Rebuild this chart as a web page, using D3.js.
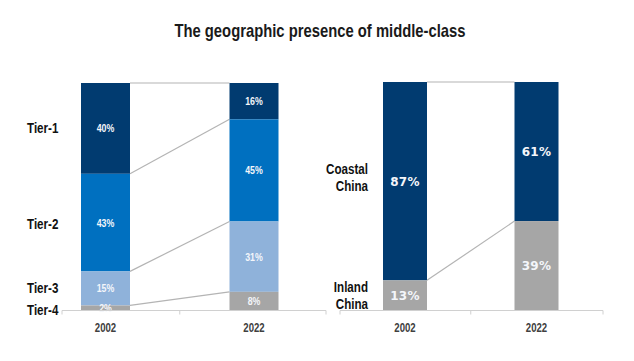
<!DOCTYPE html>
<html><head><meta charset="utf-8">
<script src="https://cdn.jsdelivr.net/npm/d3@7"></script>
<style>
html,body{margin:0;padding:0;background:#fff;}
svg{display:block;}
.cond{font-family:"Liberation Sans Narrow","Arial Narrow","Liberation Sans",Arial,sans-serif;font-weight:bold;}
</style></head>
<body><svg id="c" width="634" height="361"></svg>
<script>
// ---- data ----
const years = ["2002", "2022"];
const tiers = ["Tier-1", "Tier-2", "Tier-3", "Tier-4"];
const tier2002 = [40, 43, 15, 2];
const tier2022 = [16, 45, 31, 8];
const regions = ["Coastal China", "Inland China"];
const region2002 = [87, 13];
const region2022 = [61, 39];
const title = "The geographic presence of middle-class";

const svg = d3.select("#c");
const tierColors = ["#013b70", "#0070c0", "#8fb2da", "#a6a6a6"];
const regionColors = ["#013b70", "#a6a6a6"];
const SQ = 0.8; // horizontal condensing to mimic a narrow face

function condense(sel, f) {
  sel.each(function () {
    const w = this.getComputedTextLength();
    if (w > 0) d3.select(this).attr("textLength", w * f).attr("lengthAdjust", "spacingAndGlyphs");
  });
  return sel;
}

condense(svg.append("text").attr("class", "cond").attr("x", 320).attr("y", 37)
  .attr("text-anchor", "middle").attr("font-size", 18.5).attr("fill", "#1a1a1a").text(title), SQ);

function panel(cfg) {
  const g = svg.append("g");
  const x = d3.scalePoint().domain(years).range(cfg.xr);
  const y = d3.scaleLinear().domain([0, 100]).range([cfg.y0, cfg.y1]);
  const series = [cfg.v1, cfg.v2];
  const stacked = series.map(vals => {
    let top = 100;
    return vals.map((v, i) => { const s = {i, v, hi: top, lo: top - v}; top -= v; return s; });
  });
  // connector lines
  const bounds = stacked.map(st => [100].concat(st.slice(0, st.length - 1).map(s => s.lo)));
  bounds[0].forEach((b, k) => {
    g.append("line")
      .attr("x1", x(years[0]) + cfg.bw / 2).attr("y1", y(b))
      .attr("x2", x(years[1]) - cfg.bw / 2).attr("y2", y(bounds[1][k]))
      .attr("stroke", "#b4b4b4").attr("stroke-width", 1.2);
  });
  stacked.forEach((st, j) => {
    st.forEach(s => {
      g.append("rect").attr("x", x(years[j]) - cfg.bw / 2).attr("y", y(s.hi))
        .attr("width", cfg.bw).attr("height", y(s.lo) - y(s.hi)).attr("fill", cfg.colors[s.i]);
      const t = g.append("text").attr("x", x(years[j])).attr("y", (y(s.hi) + y(s.lo)) / 2)
        .attr("dy", "0.36em").attr("text-anchor", "middle")
        .attr("class", cfg.valClass).attr("font-size", cfg.valSize)
        .attr("font-family", cfg.valFont).attr("font-weight", "bold")
        .attr("letter-spacing", cfg.valSpacing)
        .attr("fill", "#f4f6fa").text(s.v + "%");
      if (cfg.valCond) condense(t, SQ);
    });
  });
  // axis
  const axisG = g.append("g").attr("transform", `translate(0,${cfg.y0 + 0.5})`);
  axisG.append("line").attr("x1", cfg.ax[0]).attr("x2", cfg.ax[1]).attr("stroke", "#d0d0d0");
  [cfg.ax[0], (x(years[0]) + x(years[1])) / 2, cfg.ax[1]].forEach(t => {
    axisG.append("line").attr("x1", t).attr("x2", t).attr("y1", 0).attr("y2", 4).attr("stroke", "#d0d0d0");
  });
  years.forEach(yr => {
    condense(g.append("text").attr("class", "cond").attr("x", x(yr)).attr("y", cfg.y0 + 22)
      .attr("text-anchor", "middle").attr("font-size", 12).attr("fill", "#404040").text(yr), SQ);
  });
  // category labels
  cfg.labels.forEach(l => {
    l.lines.forEach((ln, k) => {
      condense(g.append("text").attr("class", "cond").attr("x", cfg.labelX).attr("y", l.y + k * cfg.labelSize * 1.2)
        .attr("text-anchor", cfg.labelAnchor).attr("font-size", cfg.labelSize).attr("fill", "#111").text(ln), SQ);
    });
  });
}

panel({
  xr: [105.5, 254], bw: 49, y0: 310, y1: 83,
  v1: tier2002, v2: tier2022, colors: tierColors,
  valClass: "cond", valSize: 11, valFont: null, valSpacing: 0, valCond: true,
  ax: [62, 326],
  labelX: 27, labelAnchor: "start", labelSize: 14.5,
  labels: [
    {y: 133, lines: [tiers[0]]}, {y: 229, lines: [tiers[1]]},
    {y: 293, lines: [tiers[2]]}, {y: 315, lines: [tiers[3]]}
  ]
});
panel({
  xr: [405, 536.5], bw: 44, y0: 310, y1: 82,
  v1: region2002, v2: region2022, colors: regionColors,
  valClass: null, valSize: 12, valFont: "DejaVu Sans", valSpacing: 0.3, valCond: false,
  ax: [340, 603],
  labelX: 368, labelAnchor: "end", labelSize: 14.5,
  labels: [
    {y: 174, lines: ["Coastal", "China"]},
    {y: 292, lines: ["Inland", "China"]}
  ]
});
</script></body></html>
